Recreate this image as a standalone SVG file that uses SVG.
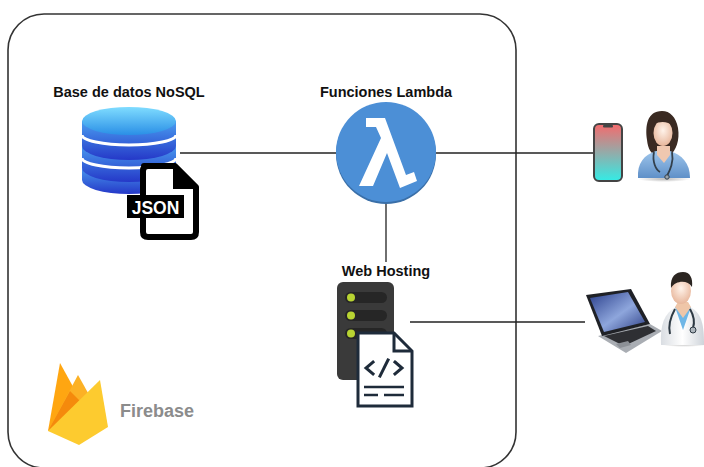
<svg xmlns="http://www.w3.org/2000/svg" width="704" height="467" viewBox="0 0 704 467">
  <defs>
    <style>
      .lbl { font-family: "Liberation Sans", Arial, sans-serif; font-weight: bold; font-size: 14.5px; fill: #111; text-anchor: middle; }
      .brand { font-family: "Liberation Sans", Arial, sans-serif; font-weight: bold; font-size: 18px; fill: #8c8c8c; }
      .wire { stroke: #222; stroke-width: 1.3; fill: none; }
      .slot { fill: #262626; }
      .led { fill: #b8d432; }
      .code { stroke: #1e2b3a; stroke-width: 3; fill: none; stroke-linecap: square; }
    </style>
    <linearGradient id="dbTop" x1="0" y1="0" x2="0" y2="1">
      <stop offset="0" stop-color="#7fdcff"/>
      <stop offset="1" stop-color="#2a8fe6"/>
    </linearGradient>
    <linearGradient id="dbBand" x1="0" y1="0" x2="0" y2="1">
      <stop offset="0" stop-color="#4a9ef0"/>
      <stop offset="1" stop-color="#2538c8"/>
    </linearGradient>
    <linearGradient id="phoneFill" x1="0" y1="0" x2="0" y2="1">
      <stop offset="0" stop-color="#f56a6c"/>
      <stop offset="1" stop-color="#33ece6"/>
    </linearGradient>
    <linearGradient id="screenFill" x1="0" y1="0" x2="1" y2="1">
      <stop offset="0" stop-color="#2a3f8c"/>
      <stop offset="0.55" stop-color="#8ea6dc"/>
      <stop offset="1" stop-color="#2d3f86"/>
    </linearGradient>
    <radialGradient id="skin" cx="0.5" cy="0.4" r="0.6">
      <stop offset="0" stop-color="#fff3ea"/>
      <stop offset="1" stop-color="#e8b79c"/>
    </radialGradient>
    <linearGradient id="scrubs" x1="0" y1="0" x2="0" y2="1">
      <stop offset="0" stop-color="#9fc6ec"/>
      <stop offset="1" stop-color="#5f90c8"/>
    </linearGradient>
    <linearGradient id="coat" x1="0" y1="0" x2="1" y2="0">
      <stop offset="0" stop-color="#d9dde2"/>
      <stop offset="0.5" stop-color="#ffffff"/>
      <stop offset="1" stop-color="#cfd4da"/>
    </linearGradient>
    <radialGradient id="shadow" cx="0.5" cy="0.5" r="0.5">
      <stop offset="0" stop-color="#888" stop-opacity="0.6"/>
      <stop offset="1" stop-color="#888" stop-opacity="0"/>
    </radialGradient>
  </defs>

  <rect width="704" height="467" fill="#ffffff"/>

  <!-- Firebase project boundary -->
  <rect x="8" y="14" width="508" height="454" rx="36" ry="36" fill="none" stroke="#333" stroke-width="1.6"/>

  <!-- connectors -->
  <g id="connectors">
    <line class="wire" x1="180" y1="153" x2="337" y2="153"/>
    <line class="wire" x1="436" y1="153" x2="594" y2="153"/>
    <line class="wire" x1="386" y1="202" x2="386" y2="262"/>
    <line class="wire" x1="410" y1="322" x2="585" y2="322"/>
  </g>

  <!-- NoSQL database -->
  <g id="nosql-db">
    <text class="lbl" x="129" y="97">Base de datos NoSQL</text>
    <path d="M82,166 V180 A47,14 0 0 0 176,180 V166 A47,14 0 0 1 82,166 Z" fill="url(#dbBand)"/>
    <path d="M82,144 V168 A47,14 0 0 0 176,168 V144 A47,14 0 0 1 82,144 Z" fill="url(#dbBand)"/>
    <path d="M82,121 V146 A47,14 0 0 0 176,146 V121 Z" fill="url(#dbBand)"/>
    <path d="M82,135 A47,10 0 0 0 176,135" fill="none" stroke="#fff" stroke-width="3"/>
    <path d="M82,158 A47,10 0 0 0 176,158" fill="none" stroke="#fff" stroke-width="3"/>
    <ellipse cx="129" cy="121" rx="47" ry="14" fill="url(#dbTop)"/>
    <!-- JSON document -->
    <path d="M144,166 H175 L196,187 V232 Q196,237 191,237 H148 Q143,237 143,232 V171 Q143,166 148,166 Z" fill="#fff" stroke="#000" stroke-width="6" stroke-linejoin="round"/>
    <path d="M173,166 V189 H196 Z" fill="#000"/>
    <rect x="127" y="195" width="57" height="23" fill="#000"/>
    <text x="155.5" y="213.5" font-family="'Liberation Sans', Arial, sans-serif" font-weight="bold" font-size="17.5" fill="#fff" text-anchor="middle">JSON</text>
  </g>

  <!-- Lambda functions -->
  <g id="lambda">
    <text class="lbl" x="386" y="97">Funciones Lambda</text>
    <circle cx="386" cy="154" r="50" fill="#3a6fa8"/>
    <circle cx="386" cy="152" r="50" fill="#4c8fd6"/>
    <path d="M366,118 H385 L406,175 L414,172 L417,181 L400,188 L387,153 L373,186 L359,186 L381,138 L376,127 H366 Z" fill="#ffffff"/>
  </g>

  <!-- Web hosting -->
  <g id="web-hosting">
    <text class="lbl" x="386" y="276">Web Hosting</text>
    <rect x="337" y="282" width="57" height="98" rx="6" fill="#3a3a3a"/>
    <rect x="345" y="292" width="42" height="11" rx="5.5" class="slot"/>
    <rect x="345" y="310" width="42" height="11" rx="5.5" class="slot"/>
    <rect x="345" y="328" width="42" height="11" rx="5.5" class="slot"/>
    <circle cx="351" cy="297.5" r="4" class="led"/>
    <circle cx="351" cy="315.5" r="4" class="led"/>
    <circle cx="351" cy="333.5" r="4" class="led"/>
    <path d="M358,333 H394 L412,351 V406 H358 Z" fill="#fff" stroke="#1e2b3a" stroke-width="3" stroke-linejoin="miter"/>
    <path d="M394,333 V351 H412" fill="none" stroke="#1e2b3a" stroke-width="3"/>
    <polyline class="code" points="373,362 366,368 373,374"/>
    <line class="code" x1="388" y1="360" x2="380" y2="376"/>
    <polyline class="code" points="395,362 402,368 395,374"/>
    <line x1="364" y1="387" x2="404" y2="387" stroke="#1e2b3a" stroke-width="2.5"/>
    <line x1="364" y1="395" x2="378" y2="395" stroke="#1e2b3a" stroke-width="2.5"/>
    <line x1="384" y1="395" x2="404" y2="395" stroke="#1e2b3a" stroke-width="2.5"/>
  </g>

  <!-- Firebase brand -->
  <g id="firebase">
    <path d="M48,431 L60,363 L82,403 Z" fill="#ffa611"/>
    <path d="M48,431 L78,375 L92,400 Z" fill="#fcb125"/>
    <path d="M48,431 L70,391 L82,403 Z" fill="#f58a0c"/>
    <path d="M48,431 L100,380 L108,427 L79,445 Z" fill="#fdcb2f"/>
    <text class="brand" x="120" y="417">Firebase</text>
  </g>

  <!-- Mobile user: nurse with phone -->
  <g id="mobile-user">
    <rect x="594" y="124" width="28" height="57" rx="5" fill="url(#phoneFill)" stroke="#444" stroke-width="2"/>
    <rect x="603" y="125" width="10" height="2.5" rx="1" fill="#444"/>
    <ellipse cx="664" cy="179" rx="26" ry="3" fill="url(#shadow)"/>
    <path d="M662,111 C647,111 645,126 647,140 C648,149 651,154 656,155 L670,155 C676,151 680,140 678,128 C676,117 670,111 662,111 Z" fill="#3a2a22"/>
    <path d="M638,178 C637,163 644,155 656,151 L670,151 C682,155 690,163 690,178 Z" fill="url(#scrubs)"/>
    <path d="M657,146 L657,155 L664,163 L670,155 L670,146 Z" fill="#f0c8b0"/>
    <ellipse cx="663" cy="133" rx="9.5" ry="13" fill="url(#skin)"/>
    <path d="M654,124 C656,116 670,115 673,126 C668,121 660,121 654,124 Z" fill="#3a2a22"/>
    <path d="M654,152 C652,162 656,170 660,172 M672,152 C674,162 670,170 667,176" fill="none" stroke="#33404c" stroke-width="1.8"/>
    <circle cx="667" cy="177" r="2.2" fill="#9aa4ad" stroke="#33404c" stroke-width="1"/>
  </g>

  <!-- Desktop user: doctor with laptop -->
  <g id="desktop-user">
    <path d="M598,336 L650,324 L662,331 L626,353 Z" fill="#a9adb3"/>
    <path d="M604,336 L648,326 L656,331 L624,346 Z" fill="#2e2f33"/>
    <path d="M616,344 L628,341 L631,345 L620,348 Z" fill="#8c9096"/>
    <path d="M586,295 L631,289 L650,324 L602,336 Z" fill="#1f2126"/>
    <path d="M590,298 L628,292 L645,322 L604,332 Z" fill="url(#screenFill)"/>
    <ellipse cx="684" cy="344" rx="24" ry="3" fill="url(#shadow)"/>
    <path d="M661,345 C660,325 664,313 676,307 L690,307 C702,313 704,325 704,345 Z" fill="url(#coat)"/>
    <path d="M675,307 L683,330 L691,307 Z" fill="#6fb6e6"/>
    <path d="M675,307 L683,318 L691,307 L688,302 L678,302 Z" fill="#efc6a8"/>
    <ellipse cx="681" cy="291" rx="10" ry="13" fill="url(#skin)"/>
    <path d="M671,288 C670,276 676,272 683,272 C690,272 693,278 692,287 C688,280 676,280 671,288 Z" fill="#2b2521"/>
    <path d="M675,309 C670,318 668,326 670,334 M690,309 C694,316 695,322 693,328" fill="none" stroke="#2e3a44" stroke-width="2"/>
    <circle cx="693" cy="330" r="3" fill="#aeb6bd" stroke="#2e3a44" stroke-width="1"/>
  </g>
</svg>
